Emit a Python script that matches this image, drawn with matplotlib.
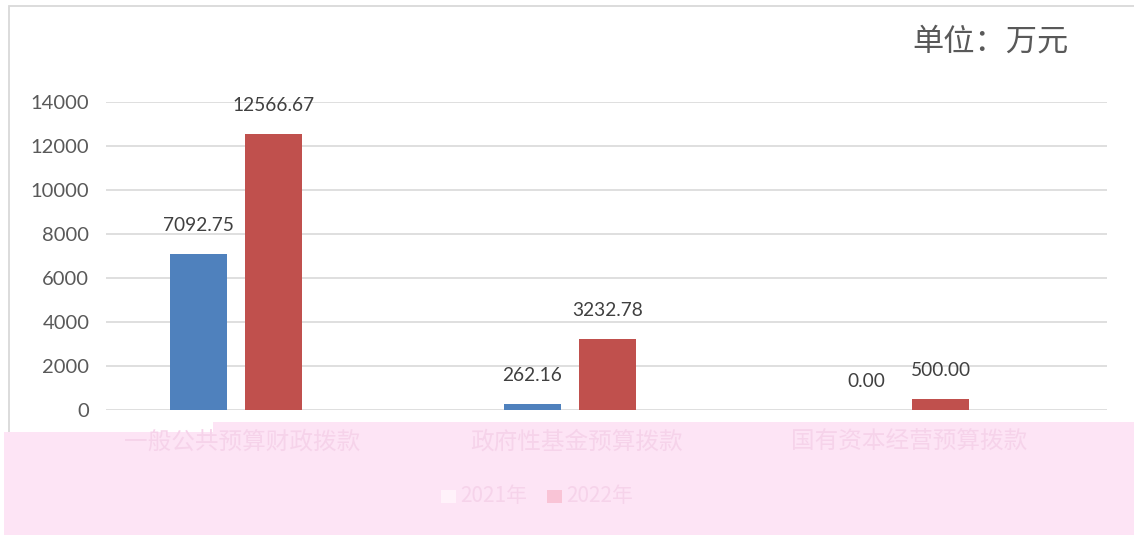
import matplotlib
matplotlib.use("Agg")
import matplotlib.pyplot as plt
from matplotlib.patches import Rectangle, Polygon
import numpy as np

# ---- data ----
categories = ["一般公共预算财政拨款", "政府性基金预算拨款", "国有资本经营预算拨款"]
series_names = ["2021年", "2022年"]
values_2021 = [7092.75, 262.16, 0.00]
values_2022 = [12566.67, 3232.78, 500.00]
y_ticks = [0, 2000, 4000, 6000, 8000, 10000, 12000, 14000]
unit_text = "单位：万元"

W, H = 1134, 535
fig = plt.figure(figsize=(W / 100, H / 100), dpi=100)
fig.patch.set_facecolor("white")

def fx(px):
    return px / W

def fy(py):
    return (H - py) / H

# outer chart frame
fig.patches.append(Rectangle((fx(9), fy(560)), fx(1200), fy(6) - fy(560),
                             transform=fig.transFigure, fill=False,
                             edgecolor="#d9d9d9", linewidth=1.3, zorder=0))

ax = fig.add_axes([fx(106), fy(410), fx(1107) - fx(106), fy(102) - fy(410)])
ax.set_facecolor("none")

x = np.arange(len(categories))
bw = 0.171
off = 0.112
c_blue = "#4F81BD"
c_red = "#C0504D"
b1 = ax.bar(x - off, values_2021, bw, color=c_blue, zorder=3)
b2 = ax.bar(x + off, values_2022, bw, color=c_red, zorder=3)

ax.set_ylim(0, 14000)
ax.set_xlim(-0.39, 2.61)
ax.set_yticks(y_ticks)
ax.set_yticklabels([str(v) for v in y_ticks])
ax.yaxis.grid(True, color="#d9d9d9", linewidth=1.2, zorder=0)
ax.set_axisbelow(True)
for s in ax.spines.values():
    s.set_visible(False)
ax.tick_params(axis="y", length=0, pad=12, labelsize=14.5, labelcolor="#595959")
ax.tick_params(axis="x", length=0)
ax.set_xticks([])
for lab in ax.get_yticklabels():
    lab.set_family("Lato")

for bars, vals in ((b1, values_2021), (b2, values_2022)):
    for rect, v in zip(bars, vals):
        ax.annotate(f"{v:.2f}", (rect.get_x() + rect.get_width() / 2, v),
                    xytext=(0, 20.5), textcoords="offset points",
                    ha="center", va="center", fontsize=13.8,
                    family="Lato", color="#404040", zorder=5)

fig.text(fx(912), fy(42), unit_text, ha="left", va="center", fontsize=22.5,
         family=["Noto Sans CJK SC", "DejaVu Sans"], fontweight="light",
         color="#595959")

# pink overlay covering the lower part
pink = "#fde4f5"
poly = Polygon([[fx(4), fy(432)], [fx(213), fy(432)], [fx(213), fy(422)],
                [fx(1134), fy(422)], [fx(1134), fy(535)], [fx(4), fy(535)]],
               closed=True, transform=fig.transFigure, facecolor=pink,
               edgecolor="none", zorder=10)
fig.patches.append(poly)

faint = "#f6d3ea"
group_px = [236, 570, 903]
for gx, cat in zip(group_px, categories):
    fig.text(fx(gx + 6), fy(442), cat, ha="center", va="center", fontsize=17,
             family=["Noto Sans CJK SC", "DejaVu Sans"], color=faint, zorder=11)

# faint legend
leg_sq = [(441, "#fff2fa"), (547, "#f9c4d6")]
for (sx, col), name in zip(leg_sq, series_names):
    fig.patches.append(Rectangle((fx(sx), fy(503)), fx(15), fy(490) - fy(503),
                                 transform=fig.transFigure, facecolor=col,
                                 edgecolor="none", zorder=11))
    fig.text(fx(sx + 19), fy(496), name, ha="left", va="center", fontsize=15,
             family=["Noto Sans CJK SC", "DejaVu Sans"], color=faint, zorder=11)

fig.savefig("out.png", dpi=100)
